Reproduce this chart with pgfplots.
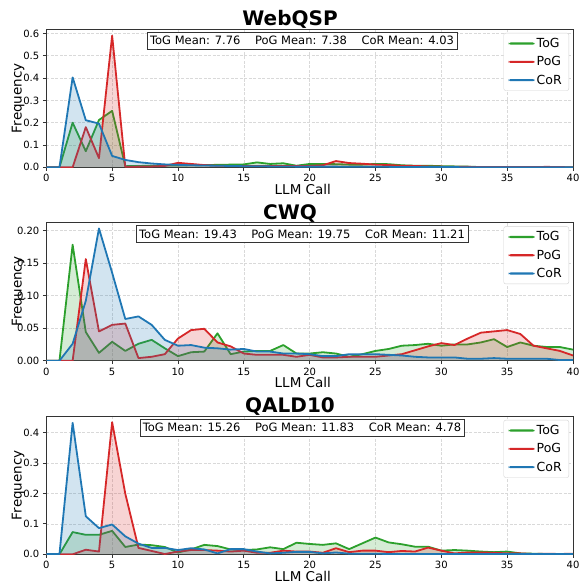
\documentclass[border=0pt]{standalone}
\usepackage{fontspec}
\setmainfont{DejaVu Sans}
\usepackage{pgfplots}
\usepackage{pgfplotstable}
\pgfplotsset{compat=1.18}

\definecolor{tog}{HTML}{2CA02C}
\definecolor{pog}{HTML}{D62728}
\definecolor{cor}{HTML}{1F77B4}

% x tog pog cor
\pgfplotstableread{
x tog pog cor
0 0 0 0
1 0 0 0
2 0.200 0 0.403
3 0.072 0.180 0.211
4 0.212 0.041 0.196
5 0.253 0.590 0.051
6 0.005 0.002 0.033
7 0.006 0.003 0.023
8 0.007 0.004 0.017
9 0.008 0.006 0.013
10 0.008 0.020 0.011
11 0.009 0.015 0.009
12 0.010 0.010 0.008
13 0.011 0.007 0.007
14 0.012 0.006 0.006
15 0.013 0.006 0.005
16 0.022 0.006 0.005
17 0.015 0.006 0.004
18 0.018 0.006 0.004
19 0.007 0.006 0.003
20 0.015 0.006 0.003
21 0.015 0.009 0.003
22 0.014 0.028 0.003
23 0.012 0.019 0.002
24 0.012 0.016 0.002
25 0.015 0.012 0.002
26 0.014 0.010 0.002
27 0.009 0.007 0.001
28 0.007 0.006 0.001
29 0.007 0.004 0.001
30 0.005 0.003 0.001
31 0.004 0.002 0.001
32 0.003 0.002 0
33 0.001 0.001 0
34 0 0.001 0
35 0 0.001 0
36 0 0.001 0
37 0 0.001 0
38 0 0.002 0
39 0 0.001 0
40 0 0 0
}\webqsp

\pgfplotstableread{
x tog pog cor
0 0 0 0
1 0 0 0
2 0.178 0 0.026
3 0.044 0.156 0.092
4 0.012 0.045 0.203
5 0.029 0.055 0.135
6 0.015 0.057 0.064
7 0.026 0.004 0.068
8 0.032 0.006 0.055
9 0.019 0.010 0.032
10 0.007 0.034 0.023
11 0.013 0.047 0.024
12 0.014 0.049 0.020
13 0.042 0.028 0.019
14 0.010 0.022 0.017
15 0.014 0.011 0.018
16 0.015 0.009 0.014
17 0.015 0.009 0.014
18 0.024 0.009 0.011
19 0.011 0.006 0.011
20 0.011 0.009 0.010
21 0.013 0.005 0.007
22 0.011 0.005 0.007
23 0.006 0.006 0.010
24 0.010 0.006 0.010
25 0.015 0.006 0.010
26 0.018 0.008 0.009
27 0.023 0.010 0.008
28 0.024 0.016 0.006
29 0.026 0.022 0.005
30 0.023 0.027 0.005
31 0.025 0.024 0.005
32 0.025 0.034 0.003
33 0.028 0.043 0.003
34 0.033 0.045 0.004
35 0.021 0.047 0.003
36 0.028 0.041 0.003
37 0.023 0.023 0.003
38 0.021 0.019 0.003
39 0.021 0.015 0.001
40 0.017 0.008 0.001
}\cwq

\pgfplotstableread{
x tog pog cor
0 0 0 0.001
1 0 0 0.001
2 0.073 0 0.432
3 0.064 0.015 0.125
4 0.064 0.009 0.086
5 0.077 0.434 0.098
6 0.024 0.199 0.059
7 0.032 0.021 0.035
8 0.030 0.011 0.021
9 0.024 0.001 0.021
10 0.006 0.009 0.014
11 0.016 0.014 0.020
12 0.031 0.014 0.016
13 0.027 0.012 0.003
14 0.016 0.009 0.017
15 0.014 0.012 0.017
16 0.016 0.005 0.009
17 0.023 0.005 0.003
18 0.017 0.012 0.005
19 0.038 0.009 0.008
20 0.034 0.009 0.008
21 0.031 0.005 0.003
22 0.036 0.020 0.006
23 0.017 0.007 0.002
24 0.036 0.012 0.002
25 0.055 0.012 0.002
26 0.039 0.007 0.001
27 0.033 0.011 0.001
28 0.025 0.009 0.001
29 0.025 0.022 0.001
30 0.012 0.012 0.001
31 0.014 0.003 0.001
32 0.012 0.006 0.001
33 0.009 0.006 0.001
34 0.007 0.005 0.001
35 0.009 0.003 0.001
36 0.003 0.003 0.001
37 0.002 0.001 0.001
38 0.001 0.002 0.001
39 0.001 0.001 0.001
40 0.001 0.002 0.001
}\qald

\pgfplotsset{
    panel/.style={
        scale only axis, width=526.7pt, height=138.3pt,
        anchor=south west,
        xmin=0, xmax=40, ymin=0,
        xtick={0,5,...,40},
        tick pos=left, tick align=outside, major tick length=3.5pt,
        tick style={black!80, line width=0.8pt},
        axis line style={black!80, line width=0.8pt},
        grid=major, grid style={gray!30, dash pattern=on 3pt off 1.5pt, line width=0.6pt},
        ticklabel style={font=\fontsize{10}{12}\selectfont},
        /pgf/number format/assume math mode=true,
        xlabel={LLM Call}, ylabel={Frequency},
        every axis x label/.style={at={(rel axis cs:0.487,0)}, anchor=center, yshift=-21.7pt,
            font=\fontsize{13.5}{15}\selectfont},
        every axis y label/.style={at={(rel axis cs:0,0.5)}, anchor=center, xshift=-28.3pt, rotate=90,
            font=\fontsize{13.5}{15}\selectfont},
        every axis title/.style={at={(rel axis cs:0.4627,1)}, anchor=base, yshift=3pt,
            font=\fontsize{20}{24}\selectfont\bfseries},
        legend style={at={(1,1)}, anchor=north east, xshift=-4pt, yshift=-4pt,
            draw=gray!35, rounded corners=2pt, fill=white,
            font=\fontsize{12.5}{14}\selectfont, row sep=3.5pt, inner xsep=5pt, inner ysep=3pt},
        legend cell align=left,
        legend image code/.code={\fill[##1] (0pt,-1.1pt) rectangle (26pt,1.1pt);},
    },
    areafill/.style={draw=none, fill=#1, fill opacity=0.2, forget plot},
    serline/.style={draw=#1, line width=1.8pt, line join=round, forget plot},
}

\newcommand{\meanbox}[1]{\node[draw=black!80, fill=white, inner xsep=3pt, inner ysep=4pt, anchor=north,
    font=\fontsize{11.5}{13}\selectfont] at (rel axis cs:0.4855,1) [yshift=-3pt] {#1};}

\newcommand{\keys}{%
    \addlegendimage{fill=tog, draw=none}\addlegendentry{ToG}
    \addlegendimage{fill=pog, draw=none}\addlegendentry{PoG}
    \addlegendimage{fill=cor, draw=none}\addlegendentry{CoR}}

\begin{document}
\begin{tikzpicture}
\useasboundingbox (0,0) rectangle (578pt,583pt);

\begin{axis}[panel, at={(46.3pt,415.7pt)}, ymax=0.62, ytick={0,0.1,...,0.6},
    yticklabel style={/pgf/number format/.cd, fixed, fixed zerofill, precision=1},
    title={WebQSP}]
    \keys
    \addplot[areafill=tog] table[x=x, y=tog] {\webqsp} \closedcycle;
    \addplot[serline=tog] table[x=x, y=tog] {\webqsp};
    \addplot[areafill=pog] table[x=x, y=pog] {\webqsp} \closedcycle;
    \addplot[serline=pog] table[x=x, y=pog] {\webqsp};
    \addplot[areafill=cor] table[x=x, y=cor] {\webqsp} \closedcycle;
    \addplot[serline=cor] table[x=x, y=cor] {\webqsp};
    \meanbox{ToG Mean: 7.76\hspace*{1.27em}PoG Mean: 7.38\hspace*{1.27em}CoR Mean: 4.03}
\end{axis}

\begin{axis}[panel, at={(46.3pt,222.3pt)}, ymax=0.2123, ytick={0,0.05,0.1,0.15,0.2},
    yticklabel style={/pgf/number format/.cd, fixed, fixed zerofill, precision=2},
    title={CWQ}]
    \keys
    \addplot[areafill=tog] table[x=x, y=tog] {\cwq} \closedcycle;
    \addplot[serline=tog] table[x=x, y=tog] {\cwq};
    \addplot[areafill=pog] table[x=x, y=pog] {\cwq} \closedcycle;
    \addplot[serline=pog] table[x=x, y=pog] {\cwq};
    \addplot[areafill=cor] table[x=x, y=cor] {\cwq} \closedcycle;
    \addplot[serline=cor] table[x=x, y=cor] {\cwq};
    \meanbox{ToG Mean: 19.43\hspace*{1.27em}PoG Mean: 19.75\hspace*{1.27em}CoR Mean: 11.21}
\end{axis}

\begin{axis}[panel, at={(46.3pt,28.7pt)}, ymax=0.4545, ytick={0,0.1,...,0.4},
    yticklabel style={/pgf/number format/.cd, fixed, fixed zerofill, precision=1},
    title={QALD10}]
    \keys
    \addplot[areafill=tog] table[x=x, y=tog] {\qald} \closedcycle;
    \addplot[serline=tog] table[x=x, y=tog] {\qald};
    \addplot[areafill=pog] table[x=x, y=pog] {\qald} \closedcycle;
    \addplot[serline=pog] table[x=x, y=pog] {\qald};
    \addplot[areafill=cor] table[x=x, y=cor] {\qald} \closedcycle;
    \addplot[serline=cor] table[x=x, y=cor] {\qald};
    \meanbox{ToG Mean: 15.26\hspace*{1.27em}PoG Mean: 11.83\hspace*{1.27em}CoR Mean: 4.78}
\end{axis}
\end{tikzpicture}
\end{document}
